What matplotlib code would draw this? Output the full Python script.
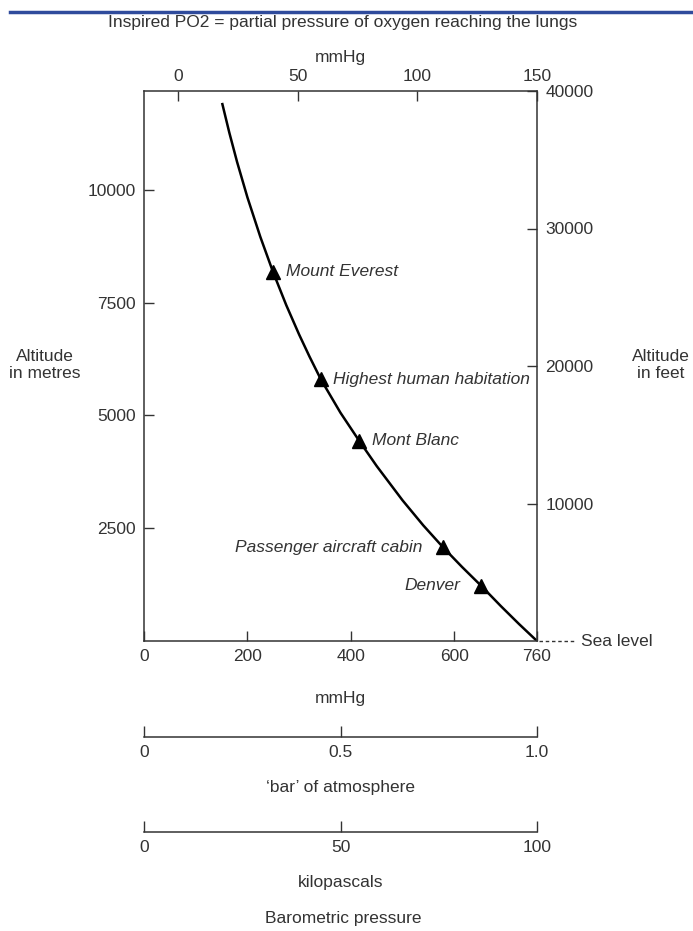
import matplotlib
matplotlib.use("Agg")
import matplotlib.pyplot as plt
from matplotlib.lines import Line2D

plt.rcParams['font.family'] = ['Liberation Sans', 'DejaVu Sans']
plt.rcParams['text.color'] = '#333333'
plt.rcParams['axes.labelcolor'] = '#333333'
plt.rcParams['xtick.color'] = '#333333'
plt.rcParams['ytick.color'] = '#333333'

# curve: barometric pressure (mmHg) vs altitude (m)
pressure_mmhg = [151, 165, 180, 200, 225, 249.5, 275, 300, 320, 342, 380, 416,
                 450, 500, 540, 578, 615, 652, 690, 725, 760]
altitude_m = [11928, 11268, 10619, 9834, 8957, 8181, 7448, 6793, 6306, 5800, 5059, 4440,
              3878, 3118, 2564, 2081, 1642, 1224, 775, 379, 0]

# landmarks on the curve
places = ['Mount Everest', 'Highest human habitation', 'Mont Blanc',
          'Passenger aircraft cabin', 'Denver']
place_p = [249.5, 342, 416, 578, 652]
place_h = [8181, 5800, 4440, 2081, 1224]
place_side = ['right', 'right', 'right', 'left', 'left']

left_ticks = [2500, 5000, 7500, 10000]
right_ticks_ft = [10000, 20000, 30000, 40000]
bottom_ticks = [0, 200, 400, 600, 760]
top_ticks = [0, 50, 100, 150]
bar_ticks = [0, 0.5, 1.0]
bar_labels = ['0', '0.5', '1.0']
kpa_ticks = [0, 50, 100]

FT = 0.3048
W, H = 693, 931
fs = 12.5
ink = '#333333'

fig = plt.figure(figsize=(W / 100, H / 100), dpi=100)
ax = fig.add_axes([144 / W, 1 - 641 / H, 393 / W, 550 / H])

ax.plot(pressure_mmhg, altitude_m, color='black', lw=1.8, solid_capstyle='butt')
ax.plot(place_p, place_h, linestyle='none', marker='^', ms=10, color='black')
for name, p, h, side in zip(places, place_p, place_h, place_side):
    if side == 'right':
        off, ha = (9, 0), 'left'
    else:
        off, ha = (-15, 0), 'right'
    ax.annotate(name, (p, h), xytext=off, textcoords='offset points',
                ha=ha, va='center', fontsize=fs, style='italic', color=ink)

ax.set_xlim(0, 760)
ax.set_ylim(0, 40000 * FT)
for s in ax.spines.values():
    s.set_color(ink)
    s.set_linewidth(1.1)

ax.set_xticks(bottom_ticks)
ax.set_xticklabels([str(t) for t in bottom_ticks])
ax.set_yticks(left_ticks)
ax.tick_params(axis='both', direction='in', length=7, width=1, labelsize=fs, pad=6)
ax.set_xlabel('mmHg', fontsize=fs, labelpad=19)

# right axis in feet
ax_ft = ax.secondary_yaxis('right', functions=(lambda m: m / FT, lambda f: f * FT))
ax_ft.set_yticks(right_ticks_ft)
ax_ft.tick_params(direction='in', length=7, width=1, labelsize=fs, pad=6, colors=ink)
ax_ft.spines['right'].set_visible(False)

# top axis: inspired PO2
p0, p1 = 66, 760


def to_po2(p):
    return (p - p0) * 150 / (p1 - p0)


def from_po2(q):
    return q * (p1 - p0) / 150 + p0


ax_top = ax.secondary_xaxis('top', functions=(to_po2, from_po2))
ax_top.set_xticks(top_ticks)
ax_top.tick_params(direction='in', length=7, width=1, labelsize=fs, pad=5, colors=ink)
ax_top.spines['top'].set_visible(False)
ax_top.set_xlabel('mmHg', fontsize=fs, labelpad=5)

# sea level marker
ax.plot([1.005, 1.1], [0, 0], transform=ax.transAxes, clip_on=False,
        color=ink, lw=1, linestyle=(0, (2.5, 2)))
fig.text(581 / W, 1 - 641 / H, 'Sea level', fontsize=fs, ha='left', va='center')

fig.text(45 / W, 1 - 365 / H, 'Altitude\nin metres', fontsize=fs, ha='center',
         va='center', linespacing=1.1)
fig.text(661 / W, 1 - 365 / H, 'Altitude\nin feet', fontsize=fs, ha='center',
         va='center', linespacing=1.1)
fig.text(343 / W, 1 - 22 / H, 'Inspired PO2 = partial pressure of oxygen reaching the lungs',
         fontsize=fs, ha='center', va='center')


def scale_axis(y_px, ticks, labels, xmax, title):
    a = fig.add_axes([144 / W, 1 - y_px / H, 393 / W, 0.01])
    a.set_xlim(0, xmax)
    a.set_ylim(0, 1)
    for k in ['top', 'left', 'right']:
        a.spines[k].set_visible(False)
    a.spines['bottom'].set_color(ink)
    a.spines['bottom'].set_linewidth(1.1)
    a.set_yticks([])
    a.set_xticks(ticks)
    a.set_xticklabels(labels)
    a.tick_params(axis='x', direction='in', length=8, width=1, labelsize=fs, pad=6)
    a.set_xlabel(title, fontsize=fs, labelpad=14)
    a.patch.set_visible(False)
    return a


scale_axis(737, bar_ticks, bar_labels, 1.0, '\u2018bar\u2019 of atmosphere')
scale_axis(832, kpa_ticks, [str(t) for t in kpa_ticks], 100, 'kilopascals')
fig.text(343 / W, 1 - 918 / H, 'Barometric pressure', fontsize=fs, ha='center', va='center')

# blue rule at the very top
fig.add_artist(Line2D([10 / W, 1.0], [1 - 12 / H, 1 - 12 / H], color='#2f4b9c', lw=2.5))

fig.savefig('out.png', dpi=100)
